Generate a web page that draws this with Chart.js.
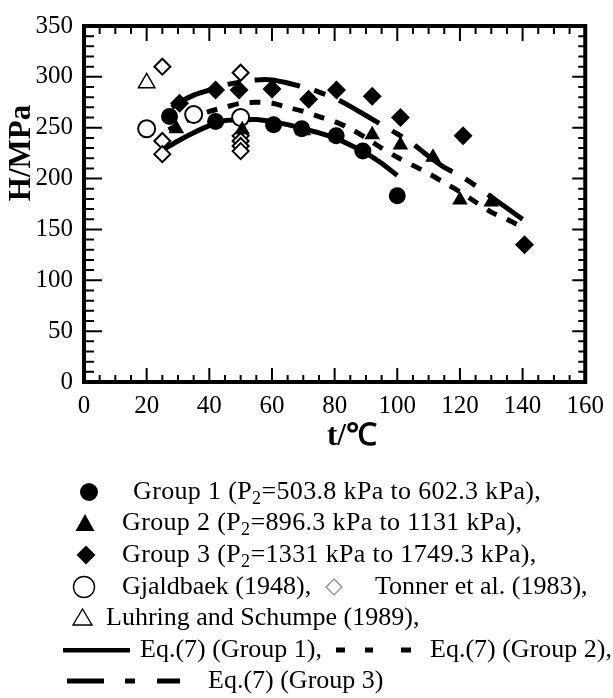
<!DOCTYPE html>
<html><head><meta charset="utf-8">
<script src="https://cdn.jsdelivr.net/npm/chart.js@4.4.0/dist/chart.umd.min.js"></script>
<style>
html,body{margin:0;padding:0;background:#fff;}
body{width:613px;height:698px;position:relative;overflow:hidden;font-family:"Liberation Serif","Times New Roman",serif;color:#000;}
#wrap{position:absolute;left:0;top:0;width:613px;height:460px;}
.lg{position:absolute;font-size:26px;line-height:30px;white-space:nowrap;}
.lg.wide{letter-spacing:0.35px;}
.lg sub{font-size:18px;vertical-align:-5px;line-height:0;}
#sym{position:absolute;left:0;top:0;width:613px;height:698px;}
.preload{position:absolute;left:-1000px;top:0;font-family:"Liberation Serif";}
</style></head><body>
<span class="preload">0123456789 <b>H/MPa t/℃</b></span>
<div id="wrap"><canvas id="c"></canvas></div>
<svg id="sym" width="613" height="698">
  <circle cx="89" cy="492" r="9" fill="#000"/>
  <polygon points="85,514 75.5,531 94.5,531" fill="#000"/>
  <polygon points="86,545.5 95.5,555 86,564.5 76.5,555" fill="#000"/>
  <circle cx="84" cy="587" r="10.5" fill="none" stroke="#000" stroke-width="1.4"/>
  <polygon points="334,579 342,587 334,595 326,587" fill="none" stroke="#888" stroke-width="1.2"/>
  <polygon points="82.5,609 73,625 92,625" fill="none" stroke="#000" stroke-width="1.4"/>
  <rect x="63" y="648" width="67" height="4.5" fill="#000"/>
  <rect x="336" y="647.5" width="9" height="5" fill="#000"/>
  <rect x="365" y="647.5" width="8" height="5" fill="#000"/>
  <rect x="401" y="647.5" width="10" height="5" fill="#000"/>
  <rect x="67" y="678.5" width="37" height="5" fill="#000"/>
  <rect x="125" y="678.5" width="10" height="5" fill="#000"/>
  <rect x="157" y="678.5" width="23" height="5" fill="#000"/>
</svg>
<div class="lg wide" style="left:133px;top:476px">Group 1 (P<sub>2</sub>=503.8 kPa to 602.3 kPa),</div>
<div class="lg wide" style="left:122px;top:507px">Group 2 (P<sub>2</sub>=896.3 kPa to 1131 kPa),</div>
<div class="lg wide" style="left:122px;top:539px">Group 3 (P<sub>2</sub>=1331 kPa to 1749.3 kPa),</div>
<div class="lg" style="left:122px;top:571px">Gjaldbaek (1948),</div>
<div class="lg" style="left:375px;top:571px">Tonner et al. (1983),</div>
<div class="lg" style="left:106px;top:602px">Luhring and Schumpe (1989),</div>
<div class="lg" style="left:140px;top:634px">Eq.(7) (Group 1),</div>
<div class="lg" style="left:430px;top:634px">Eq.(7) (Group 2),</div>
<div class="lg" style="left:208px;top:665px">Eq.(7) (Group 3)</div>
<script>
// ---- data (t in °C, H in MPa) ----
const group1T = [27.3, 42, 60.5, 69.5, 80.5, 89, 100];
const group1H = [261, 256, 253, 249, 242, 227, 183];
const group2T = [29.5, 50.5, 70, 80.5, 92, 101, 111.4, 120, 130];
const group2H = [249, 248, 247, 241, 243, 233, 221, 179, 177];
const group3T = [30.5, 42, 49.5, 60, 71.7, 80.6, 92, 101, 121, 140.6];
const group3H = [274, 287, 287, 288, 278, 287, 281, 260, 242, 135];
const gjaldbaekT = [20, 35, 50];
const gjaldbaekH = [249, 263, 260];
const tonnerT = [25, 25, 25, 50, 50, 50, 50, 50];
const tonnerH = [310, 237, 224, 304, 242, 237, 232, 227];
const luhringT = [20];
const luhringH = [294];
const eq1T = [25, 30, 35, 40, 45, 50, 55, 60, 65, 70, 75, 80, 85, 90, 95, 100];
const eq1H = [228, 237, 245, 252, 257, 258, 258, 256, 253, 249, 245, 240, 233, 225, 215, 203];
const eq2T = [27, 30, 35, 40, 45, 50, 55, 60, 65, 70, 75, 80, 85, 90, 95, 100, 105, 110, 115, 120, 125, 130, 135, 140];
const eq2H = [248, 253, 260, 266, 270, 274, 275, 274, 270, 266, 261, 256, 249, 240, 230, 221, 213, 205, 196, 187, 177, 167, 160, 152];
const eq3T = [28, 30, 35, 40, 45, 50, 55, 60, 65, 70, 75, 80, 85, 90, 95, 100, 105, 110, 115, 120, 125, 130, 135, 140];
const eq3H = [270, 274, 282, 287, 292, 295, 297, 297, 294, 290, 285, 279, 271, 262, 253, 244, 234, 222, 211, 203, 193, 182, 171, 160];
const xTickValues = [0, 20, 40, 60, 80, 100, 120, 140, 160];
const yTickValues = [0, 50, 100, 150, 200, 250, 300, 350];
const xMinorStep = 5;
const yMinorStep = 10;
const xTitle = 't/℃';
const yTitle = 'H/MPa';

const pts = (xs, ys) => xs.map((x, i) => ({x, y: ys[i]}));
const serif = '"Liberation Serif", "Times New Roman", serif';

const framePlugin = {
  id: 'frame',
  afterDraw(chart) {
    const {ctx, chartArea: a, scales: {x, y}} = chart;
    ctx.save();
    ctx.strokeStyle = '#000';
    ctx.lineWidth = 2;
    ctx.beginPath();
    const xMax = xTickValues[xTickValues.length - 1];
    const yMax = yTickValues[yTickValues.length - 1];
    for (let v = 0; v <= xMax; v += xMinorStep) {
      const px = x.getPixelForValue(v);
      const major = xTickValues.includes(v);
      ctx.moveTo(px, a.bottom); ctx.lineTo(px, a.bottom - (major ? 14 : 7));
      ctx.moveTo(px, a.top); ctx.lineTo(px, a.top + (major ? 15 : 8));
    }
    for (let v = 0; v <= yMax; v += yMinorStep) {
      const py = y.getPixelForValue(v);
      const major = yTickValues.includes(v);
      ctx.moveTo(a.left, py); ctx.lineTo(a.left + (major ? 18 : 10), py);
      ctx.moveTo(a.right, py); ctx.lineTo(a.right - (major ? 13 : 7), py);
    }
    ctx.stroke();
    ctx.lineWidth = 4;
    ctx.strokeRect(a.left, a.top, a.right - a.left, a.bottom - a.top);
    ctx.fillStyle = '#000';
    ctx.font = 'bold 31px ' + serif;
    ctx.textAlign = 'center';
    ctx.textBaseline = 'middle';
    ctx.save();
    ctx.translate(22, 153);
    ctx.rotate(-Math.PI / 2);
    ctx.fillText(yTitle, 0, 0);
    ctx.restore();
    ctx.fillText(xTitle, 352, 437);
    ctx.restore();
  }
};

const markerBase = {showLine: false, borderColor: '#000'};
const chart = new Chart(document.getElementById('c'), {
  type: 'scatter',
  data: {
    datasets: [
      {...markerBase, label: 'Group 1', data: pts(group1T, group1H), pointStyle: 'circle', pointRadius: 8.5, backgroundColor: '#000', borderWidth: 0},
      {...markerBase, label: 'Group 2', data: pts(group2T, group2H), pointStyle: 'triangle', pointRadius: 9, backgroundColor: '#000', borderWidth: 0},
      {...markerBase, label: 'Group 3', data: pts(group3T, group3H), pointStyle: 'rectRot', pointRadius: 9.5, backgroundColor: '#000', borderWidth: 0},
      {...markerBase, label: 'Gjaldbaek (1948)', data: pts(gjaldbaekT, gjaldbaekH), pointStyle: 'circle', pointRadius: 8.5, backgroundColor: '#fff', borderWidth: 2},
      {...markerBase, label: 'Tonner et al. (1983)', data: pts(tonnerT, tonnerH), pointStyle: 'rectRot', pointRadius: 8, backgroundColor: '#fff', borderWidth: 2},
      {...markerBase, label: 'Luhring and Schumpe (1989)', data: pts(luhringT, luhringH), pointStyle: 'triangle', pointRadius: 9.5, backgroundColor: '#fff', borderWidth: 1.5},
      {label: 'Eq.(7) (Group 1)', data: pts(eq1T, eq1H), showLine: true, pointRadius: 0, borderColor: '#000', borderWidth: 5, tension: 0.3, fill: false},
      {label: 'Eq.(7) (Group 2)', data: pts(eq2T, eq2H), showLine: true, pointRadius: 0, borderColor: '#000', borderWidth: 5, borderDash: [11, 11], borderDashOffset: 2, tension: 0.3, fill: false},
      {label: 'Eq.(7) (Group 3)', data: pts(eq3T, eq3H), showLine: true, pointRadius: 0, borderColor: '#000', borderWidth: 5, borderDash: [46, 15, 12, 15], tension: 0.3, fill: false}
    ]
  },
  options: {
    responsive: true,
    maintainAspectRatio: false,
    animation: false,
    devicePixelRatio: 1,
    layout: {padding: {top: 17, right: 25, left: 0, bottom: 0}},
    plugins: {legend: {display: false}, tooltip: {enabled: false}},
    scales: {
      x: {
        type: 'linear', min: 0, max: 160,
        afterFit: (s) => { s.height = 78; },
        afterBuildTicks: (s) => { s.ticks = xTickValues.map(v => ({value: v})); },
        grid: {display: false, drawTicks: false},
        border: {display: false},
        ticks: {color: '#000', padding: 9, font: {family: serif, size: 25}, maxRotation: 0}
      },
      y: {
        type: 'linear', min: 0, max: 350,
        afterFit: (s) => { s.width = 84; },
        afterBuildTicks: (s) => { s.ticks = yTickValues.map(v => ({value: v})); },
        grid: {display: false, drawTicks: false},
        border: {display: false},
        ticks: {color: '#000', padding: 11, font: {family: serif, size: 25}}
      }
    }
  },
  plugins: [framePlugin]
});
if (document.fonts && document.fonts.ready) {
  document.fonts.ready.then(() => chart.update('none'));
}
</script>
</body></html>
